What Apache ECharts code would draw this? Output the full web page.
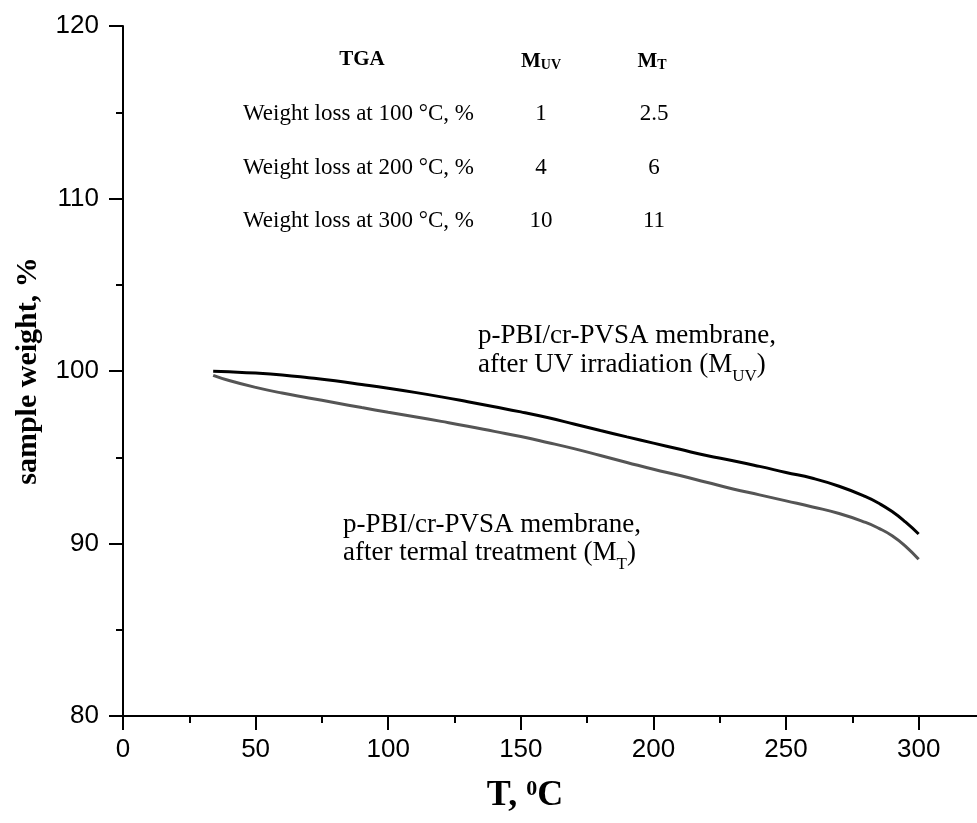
<!DOCTYPE html>
<html>
<head>
<meta charset="utf-8">
<script src="https://cdn.jsdelivr.net/npm/echarts@6/dist/echarts.min.js"></script>
<style>
  html, body { margin: 0; padding: 0; background: #fff; }
  #chart { width: 977px; height: 823px; }
</style>
</head>
<body>
<div id="chart"></div>
<script>
// temperature, °C
var temps = [34, 40, 50, 60, 70, 80, 90, 100, 110, 120, 130, 140, 150, 160, 170, 180, 190,
  200, 210, 220, 230, 240, 250, 260, 270, 280, 285, 290, 295, 300];
// sample weight, % (after UV irradiation)
var weightUV = [99.98, 99.95, 99.88, 99.77, 99.61, 99.43, 99.22, 99.0, 98.76, 98.5, 98.22, 97.93,
  97.63, 97.3, 96.93, 96.55, 96.18, 95.82, 95.46, 95.1, 94.8, 94.47, 94.12, 93.78, 93.32, 92.72,
  92.33, 91.85, 91.25, 90.55];
// sample weight, % (after termal treatment)
var weightT = [99.75, 99.45, 99.05, 98.72, 98.44, 98.16, 97.88, 97.61, 97.35, 97.08, 96.8, 96.5,
  96.2, 95.86, 95.5, 95.1, 94.7, 94.3, 93.94, 93.55, 93.16, 92.82, 92.47, 92.12, 91.74, 91.22,
  90.88, 90.45, 89.85, 89.08];

var xMajorTicks = [0, 50, 100, 150, 200, 250, 300];
var xMinorTicks = [25, 75, 125, 175, 225, 275];

// table in the upper part of the plot
var tableHead = ['TGA', 'M', 'M'];
var tableHeadSub = ['', 'UV', 'T'];
var tableRows = ['Weight loss at 100 °C, %', 'Weight loss at 200 °C, %', 'Weight loss at 300 °C, %'];
var lossUV = ['1', '4', '10'];
var lossT = ['2.5', '6', '11'];

var serif = '"Liberation Serif", "Times New Roman", serif';
var sans = '"Liberation Sans", Arial, sans-serif';

var chart = echarts.init(document.getElementById('chart'));

function pairs(xs, ys) {
  return xs.map(function (x, i) { return [x, ys[i]]; });
}

// table text
var graphics = [];
graphics.push({
  type: 'text', x: 362, y: 60,
  style: { text: tableHead[0], font: 'bold 21px ' + serif, fill: '#000', align: 'center', verticalAlign: 'middle' }
});
[541, 652].forEach(function (cx, k) {
  graphics.push({
    type: 'text', x: cx, y: 60,
    style: {
      text: '{m|' + tableHead[k + 1] + '}{s|' + tableHeadSub[k + 1] + '}',
      align: 'center', verticalAlign: 'middle', fill: '#000',
      rich: {
        m: { fontFamily: serif, fontWeight: 'bold', fontSize: 21, lineHeight: 24, verticalAlign: 'bottom' },
        s: { fontFamily: serif, fontWeight: 'bold', fontSize: 14, lineHeight: 20, verticalAlign: 'bottom' }
      }
    }
  });
});
var rowY = [114, 168, 221];
tableRows.forEach(function (t, i) {
  graphics.push({
    type: 'text', x: 243, y: rowY[i],
    style: { text: t, font: '23px ' + serif, fill: '#000', align: 'left', verticalAlign: 'middle' }
  });
  graphics.push({
    type: 'text', x: 541, y: rowY[i],
    style: { text: lossUV[i], font: '23px ' + serif, fill: '#000', align: 'center', verticalAlign: 'middle' }
  });
  graphics.push({
    type: 'text', x: 654, y: rowY[i],
    style: { text: lossT[i], font: '23px ' + serif, fill: '#000', align: 'center', verticalAlign: 'middle' }
  });
});

// curve labels (subscript dropped below the baseline)
var labelRich = {
  a: { fontFamily: serif, fontSize: 27, lineHeight: 30, verticalAlign: 'top' },
  s: { fontFamily: serif, fontSize: 17, lineHeight: 34, verticalAlign: 'bottom' }
};
var labelFont = '27px ' + serif;
graphics.push(
  { type: 'text', x: 478, y: 336, style: { text: 'p-PBI/cr-PVSA membrane,', font: labelFont, fill: '#000', align: 'left', verticalAlign: 'middle' } },
  { type: 'text', x: 478, y: 368, style: { text: '{a|after UV irradiation (M}{s|UV}{a|)}', rich: labelRich, fill: '#000', align: 'left', verticalAlign: 'middle' } },
  { type: 'text', x: 343, y: 525, style: { text: 'p-PBI/cr-PVSA membrane,', font: labelFont, fill: '#000', align: 'left', verticalAlign: 'middle' } },
  { type: 'text', x: 343, y: 556, style: { text: '{a|after termal treatment (M}{s|T}{a|)}', rich: labelRich, fill: '#000', align: 'left', verticalAlign: 'middle' } }
);

chart.setOption({
  animation: false,
  backgroundColor: '#fff',
  grid: { left: 123, top: 26, right: 0, bottom: 107, outerBoundsMode: 'none', containLabel: false },
  xAxis: [
    {
      type: 'value',
      min: 0,
      max: 322,
      position: 'bottom',
      name: '{a|T, }{b|0}{a|C}',
      nameLocation: 'middle',
      nameGap: 62,
      nameTextStyle: {
        padding: [0, 50, 0, 0],
        rich: {
          a: { fontFamily: serif, fontWeight: 'bold', fontSize: 36, lineHeight: 38, color: '#000', verticalAlign: 'top' },
          b: { fontFamily: serif, fontWeight: 'bold', fontSize: 22, lineHeight: 22, color: '#000', verticalAlign: 'top' }
        }
      },
      axisLine: { show: true, lineStyle: { color: '#000', width: 2 } },
      axisTick: { show: true, length: 14, lineStyle: { color: '#000', width: 2 }, customValues: xMajorTicks },
      axisLabel: { show: true, margin: 21, fontFamily: sans, fontSize: 26, color: '#000', customValues: xMajorTicks },
      splitLine: { show: false }
    },
    {
      type: 'value',
      min: 0,
      max: 322,
      position: 'bottom',
      axisLine: { show: false },
      axisTick: { show: true, length: 7, lineStyle: { color: '#000', width: 2 }, customValues: xMinorTicks },
      axisLabel: { show: false },
      splitLine: { show: false }
    }
  ],
  yAxis: {
    type: 'value',
    min: 80,
    max: 120,
    interval: 10,
    name: 'sample weight, %',
    nameLocation: 'middle',
    nameGap: 80,
    nameTextStyle: { fontFamily: serif, fontWeight: 'bold', fontSize: 30, color: '#000' },
    axisLine: { show: true, lineStyle: { color: '#000', width: 2 } },
    axisTick: { show: true, length: 14, lineStyle: { color: '#000', width: 2 } },
    minorTick: { show: true, splitNumber: 2, length: 7, lineStyle: { color: '#000', width: 2 } },
    axisLabel: { margin: 24, fontFamily: sans, fontSize: 26, color: '#000' },
    splitLine: { show: false }
  },
  graphic: graphics,
  series: [
    {
      name: 'M_UV',
      type: 'line',
      xAxisIndex: 0,
      data: pairs(temps, weightUV),
      showSymbol: false,
      smooth: true,
      lineStyle: { color: '#000', width: 3 }
    },
    {
      name: 'M_T',
      type: 'line',
      xAxisIndex: 0,
      data: pairs(temps, weightT),
      showSymbol: false,
      smooth: true,
      lineStyle: { color: '#555', width: 3 }
    }
  ]
});
</script>
</body>
</html>
